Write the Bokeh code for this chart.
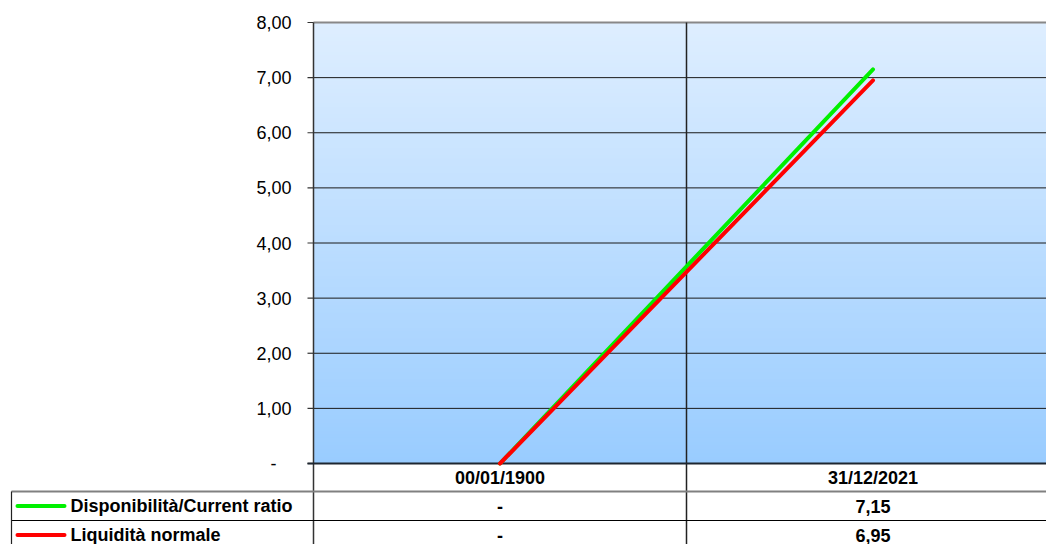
import numpy as np
from bokeh.plotting import figure
from bokeh.models import Range1d
from bokeh.embed import file_html
from bokeh.resources import INLINE
from bokeh.core.properties import value

# ---------------- data ----------------
categories = ["00/01/1900", "31/12/2021"]
series_names = ["Disponibilità/Current ratio", "Liquidità normale"]
current_ratio = [0.0, 7.15]
liquidity = [0.0, 6.95]
series_colors = ["#00F000", "#FF0000"]
y_ticks = [0, 1, 2, 3, 4, 5, 6, 7, 8]
y_tick_labels = ["-\u2007\u2008", "1,00", "2,00", "3,00", "4,00", "5,00", "6,00", "7,00", "8,00"]


def fmt(v):
    return "-" if v == 0 else f"{v:.2f}".replace(".", ",")


series_values = [current_ratio, liquidity]
table_rows = [[fmt(v) for v in s] for s in series_values]

# ---------------- layout constants (page pixels) ----------------
W, H = 1046, 544
X0_PX = 313          # px of category boundary 0 (plot area left edge)
CAT_PX = 373         # px per category
Y0_PX = 463          # px of value 0
UNIT = 55.125        # px per value unit
ROW_EDGES_PX = [463, 491, 520, 549]   # table row borders
FONT = value("Liberation Sans")
FS = "18px"


def px_x(px):
    return (px - X0_PX) / CAT_PX


def px_y(px):
    return (Y0_PX - px) / UNIT


x_cats = [i + 0.5 for i in range(len(categories))]
x_end = px_x(W)
ymax = y_ticks[-1]

p = figure(width=W, height=H, x_range=Range1d(px_x(0), x_end), y_range=Range1d(px_y(H), px_y(0)),
           output_backend="svg", toolbar_location=None, x_axis_location=None, y_axis_location=None,
           min_border=0, min_border_left=0, min_border_right=0, min_border_top=0, min_border_bottom=0,
           outline_line_color=None, background_fill_color="white", border_fill_color="white")
p.grid.grid_line_color = None
p.grid.visible = False

# gradient background of the plot area
n = 120
edges = np.linspace(y_ticks[0], ymax, n + 1)
c_bot = np.array([153, 204, 255])
c_top = np.array([222, 238, 255])
cols = []
for i in range(n):
    t = (edges[i] + edges[i + 1]) / 2 / ymax
    c = (c_bot + (c_top - c_bot) * t).round().astype(int)
    cols.append("#%02x%02x%02x" % tuple(c))
step = edges[1] - edges[0]
p.quad(left=0, right=x_end, bottom=edges[:-1], top=np.minimum(edges[1:] + step * 0.5, ymax),
       fill_color=cols, line_color=None)

# horizontal grid lines
inner = y_ticks[1:-1]
p.segment(x0=[0] * len(inner), x1=[x_end] * len(inner), y0=inner, y1=inner,
          line_color="#1a1a1a", line_width=1)
# top border of plot area
p.segment(x0=[0], x1=[x_end], y0=[ymax], y1=[ymax], line_color="#888888", line_width=2)

# value axis: line, ticks, labels
y_bottom = px_y(H)
p.segment(x0=[0], x1=[0], y0=[ymax], y1=[y_bottom], line_color="#333333", line_width=1.5)
p.segment(x0=[px_x(307)] * len(y_ticks), x1=[0] * len(y_ticks), y0=y_ticks, y1=y_ticks,
          line_color="#333333", line_width=1.2)
p.text(x=[px_x(291)] * len(y_ticks), y=y_ticks, text=y_tick_labels, text_font=FONT,
       text_font_size=FS, text_align="right", text_baseline="middle", text_color="black")

# category separators (through plot area and table)
p.segment(x0=[1], x1=[1], y0=[ymax], y1=[y_bottom], line_color="#222222", line_width=1.5)

# table borders
row_y = [px_y(v) for v in ROW_EDGES_PX]
x_lb = px_x(11)
p.segment(x0=[x_lb], x1=[x_end], y0=[row_y[1]], y1=[row_y[1]], line_color="#808080", line_width=2)
p.segment(x0=[x_lb], x1=[x_end], y0=[row_y[2]], y1=[row_y[2]], line_color="#000000", line_width=1.2)
p.segment(x0=[x_lb], x1=[x_lb], y0=[row_y[1]], y1=[y_bottom], line_color="#222222", line_width=1.2)

# x axis line (value 0)
p.segment(x0=[px_x(307)], x1=[x_end], y0=[0], y1=[0], line_color="#1e2630", line_width=2)

# series lines
for vals, col in zip(series_values, series_colors):
    p.line(x=x_cats, y=vals, line_color=col, line_width=4, line_cap="round", line_join="round")

# category row
cat_y = (row_y[0] + row_y[1]) / 2
p.text(x=x_cats, y=[cat_y] * len(categories), text=categories, text_font=FONT,
       text_font_style="bold", text_font_size=FS, text_align="center", text_baseline="middle",
       text_color="black")

# data table rows with legend keys
for i, (name, col, vals) in enumerate(zip(series_names, series_colors, table_rows)):
    yc = (row_y[i + 1] + row_y[i + 2]) / 2
    p.segment(x0=[px_x(17)], x1=[px_x(64)], y0=[yc], y1=[yc], line_color=col, line_width=4,
              line_cap="round")
    p.text(x=[px_x(70)], y=[yc], text=[name], text_font=FONT, text_font_style="bold",
           text_font_size=FS, text_align="left", text_baseline="middle", text_color="black")
    p.text(x=x_cats, y=[yc] * len(vals), text=vals, text_font=FONT, text_font_style="bold",
           text_font_size=FS, text_align="center", text_baseline="middle", text_color="black")

open("out.html", "w").write(file_html(p, INLINE))
